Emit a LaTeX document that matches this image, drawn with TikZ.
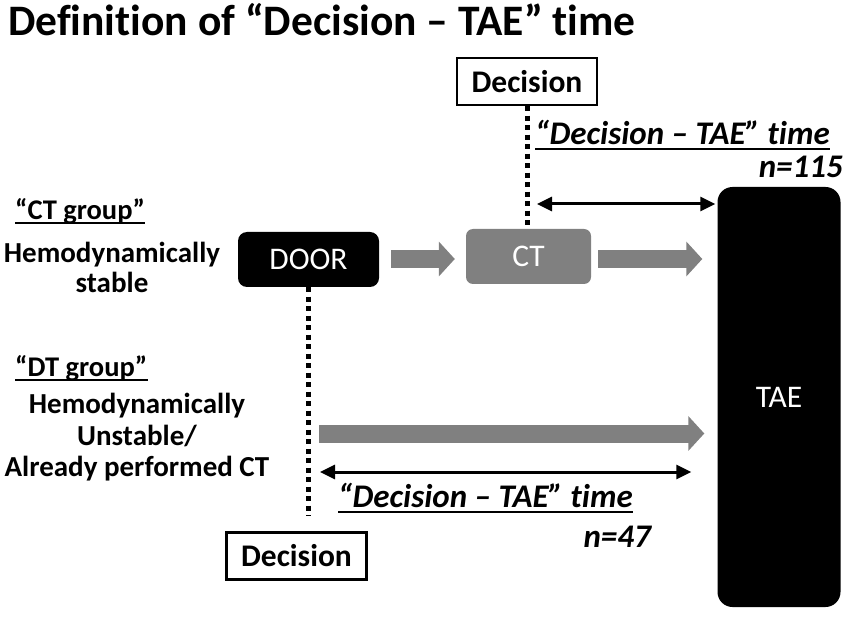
\documentclass[tikz,border=0pt]{standalone}
\usepackage{fontspec}
\setmainfont{Carlito}[Ligatures=NoCommon]
\usetikzlibrary{arrows.meta}
\definecolor{midgray}{RGB}{128,128,128}
\tikzset{
  decbox/.style={draw=black, line width=2.5pt, fill=white, minimum width=140pt, minimum height=47pt, inner sep=0pt, font=\fontsize{31.5}{34}\selectfont\bfseries},
  blackbox/.style={fill=black, rounded corners=9pt, text=white, inner sep=0pt, font=\fontsize{31.5}{34}\selectfont},
  graybox/.style={fill=midgray, rounded corners=7pt, text=white, inner sep=0pt, font=\fontsize{31.5}{34}\selectfont},
  grayarrow/.style={draw=midgray, line width=18pt, -{Triangle[width=34pt,length=16pt]}},
  timearrow/.style={draw=black, line width=3pt, {Triangle[width=14pt,length=15pt]}-{Triangle[width=14pt,length=15pt]}},
  dotline/.style={draw=black, line width=5pt, dash pattern=on 5pt off 4.5pt},
  lbl/.style={inner sep=0pt, font=\fontsize{29}{32}\selectfont\bfseries},
  grplbl/.style={inner sep=0pt, font=\fontsize{28.5}{31}\selectfont\bfseries},
  itlbl/.style={inner sep=0pt, font=\fontsize{33}{36}\selectfont\bfseries\itshape},
  uline/.style={draw=black, line width=2pt}
}
\begin{document}
\begin{tikzpicture}[x=1pt, y=-1pt]
\useasboundingbox (0,0) rectangle (851,617);
% title
\node[inner sep=0pt, anchor=base west, font=\fontsize{43.5}{47}\selectfont\bfseries] (title) at (8,36) {Definition of “Decision – TAE” time};
% boxes
\node[decbox] (topdec) at (527,81.5) {Decision};
\node[graybox, minimum width=125pt, minimum height=55pt] (ct) at (528.5,256.5) {\raisebox{-2pt}{CT}};
\node[blackbox, minimum width=141pt, minimum height=55pt] (door) at (308.5,259.5) {DOOR};
\node[blackbox, rounded corners=15pt, minimum width=123pt, minimum height=420pt] (tae) at (779,397) {TAE};
\node[decbox] (botdec) at (296.5,556) {Decision};
% dotted lines
\draw[dotline] (topdec.south) -- (topdec.south |- ct.north);
\draw[dotline, shorten >=15pt] (door.south) -- (door.south |- botdec.north);
% gray arrows
\coordinate (r1) at (0,259);
\draw[grayarrow, shorten <=12pt, shorten >=11pt] (door.east |- r1) -- (ct.west |- r1);
\draw[grayarrow, shorten <=7pt, shorten >=15pt] (ct.east |- r1) -- (tae.west |- r1);
\coordinate (g) at (306,433.5);
\draw[grayarrow, shorten <=13pt, shorten >=13pt] (g) -- (g -| tae.west);
% time arrows
\coordinate (t1) at (527,204);
\draw[timearrow, shorten <=10pt, shorten >=2pt] (t1) -- (t1 -| tae.west);
\coordinate (t2) at (306,472);
\draw[timearrow, shorten <=14pt, shorten >=26pt] (t2) -- (t2 -| tae.west);
% italic labels
\node[itlbl, anchor=base west] (it1) at (535,145) {“Decision – TAE” time};
\draw[uline] ([yshift=-4pt]it1.base west) -- ([yshift=-4pt]it1.base east);
\node[itlbl, anchor=base east] (n1) at (843,178) {n=115};
\node[itlbl, anchor=base west] (it2) at (338,507) {“Decision – TAE” time};
\draw[uline] ([yshift=-5pt]it2.base west) -- ([yshift=-5pt]it2.base east);
\node[itlbl, anchor=base east] (n2) at (651,547) {n=47};
% left labels
\node[grplbl, anchor=base west] (g1) at (15,220) {“CT group”};
\draw[uline] ([yshift=-3pt]g1.base west) -- ([yshift=-3pt]g1.base east);
\node[lbl, anchor=base] (h1) at (112,263) {Hemodynamically};
\node[lbl, anchor=base] (s1) at (112,293) {stable};
\node[grplbl, anchor=base west] (g2) at (15,377) {“DT group”};
\draw[uline] ([yshift=-3pt]g2.base west) -- ([yshift=-3pt]g2.base east);
\node[lbl, anchor=base] (h2) at (137,413) {Hemodynamically};
\node[lbl, anchor=base] (u2) at (137,445) {Unstable/};
\node[lbl, anchor=base] (a2) at (137,476) {Already performed CT};
\end{tikzpicture}
\end{document}
